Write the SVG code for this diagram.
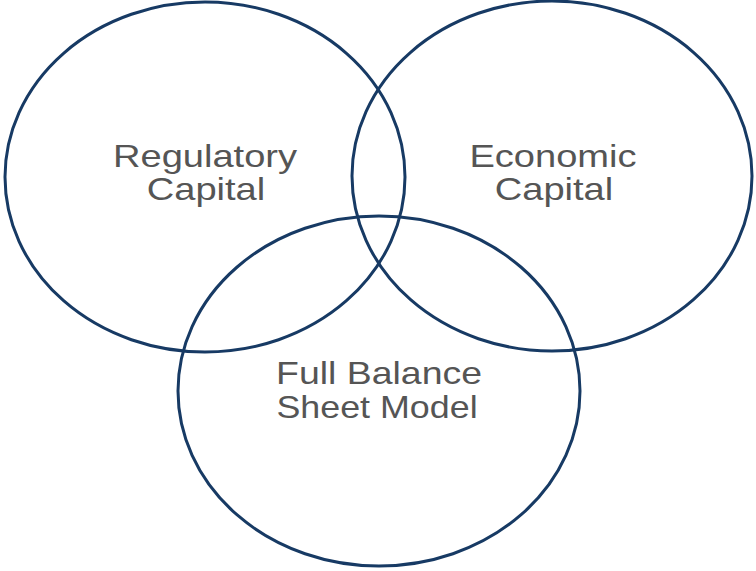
<svg xmlns="http://www.w3.org/2000/svg" width="756" height="571" viewBox="0 0 756 571">
<style>
.ring{fill:none;stroke:#173a64;stroke-width:3}
.lbl{font-family:"Liberation Sans",Arial,sans-serif;font-size:32px;fill:#555555;text-anchor:middle}
</style>
<rect width="756" height="571" fill="#ffffff"/>
<g id="regulatory-capital">
<ellipse class="ring" cx="205" cy="177" rx="200" ry="175"/>
<text class="lbl" transform="translate(205,167) scale(1.19,1)">Regulatory</text>
<text class="lbl" transform="translate(206,200) scale(1.19,1)">Capital</text>
</g>
<g id="economic-capital">
<ellipse class="ring" cx="552" cy="176" rx="200" ry="175"/>
<text class="lbl" transform="translate(553,167) scale(1.19,1)">Economic</text>
<text class="lbl" transform="translate(554,200) scale(1.19,1)">Capital</text>
</g>
<g id="full-balance-sheet-model">
<ellipse class="ring" cx="379" cy="391" rx="201" ry="175"/>
<text class="lbl" transform="translate(379,384) scale(1.17,1)">Full Balance</text>
<text class="lbl" transform="translate(377,418) scale(1.12,1)">Sheet Model</text>
</g>
<g id="connectors"></g>
</svg>
